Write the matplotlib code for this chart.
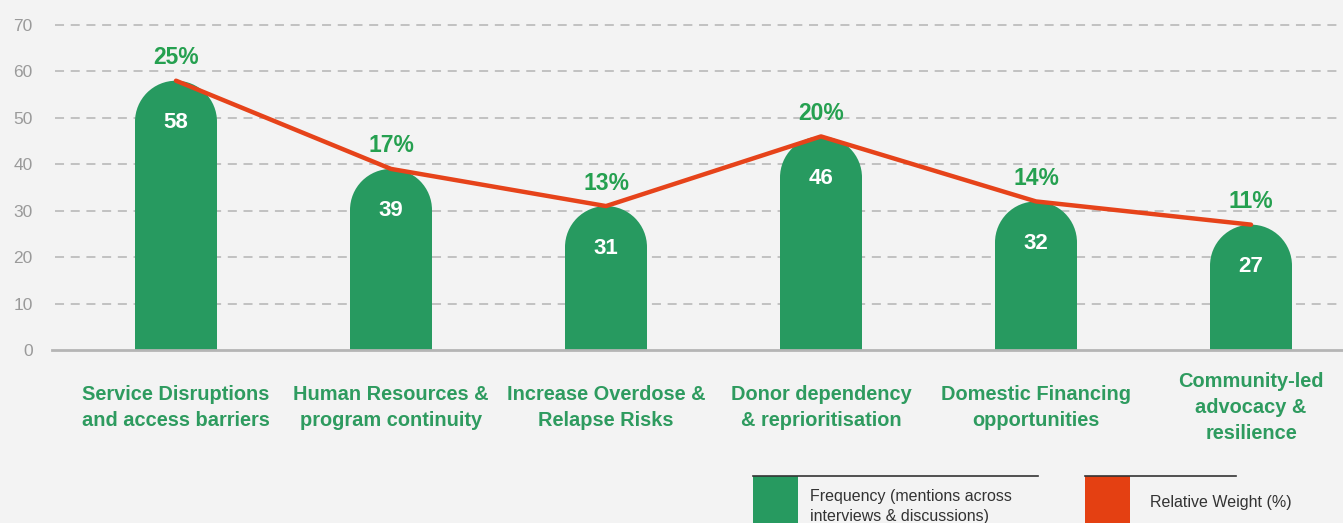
import numpy as np
import matplotlib
matplotlib.use("Agg")
import matplotlib.pyplot as plt
from matplotlib.patches import Rectangle, Ellipse

plt.rcParams["font.family"] = ["Liberation Sans", "DejaVu Sans"]

# data
categories = ["Service Disruptions\nand access barriers",
              "Human Resources &\nprogram continuity",
              "Increase Overdose &\nRelapse Risks",
              "Donor dependency\n& reprioritisation",
              "Domestic Financing\nopportunities",
              "Community-led\nadvocacy &\nresilience"]
frequency = [58, 39, 31, 46, 32, 27]
weight_pct = [25, 17, 13, 20, 14, 11]
y_ticks = [0, 10, 20, 30, 40, 50, 60, 70]

BG = "#f3f3f3"
GREEN = "#279a60"
GREEN_TXT = "#25a050"
ORANGE = "#e6431a"

W, H = 1343, 523
fig = plt.figure(figsize=(W / 100, H / 100), dpi=100, facecolor=BG)

# axes geometry in pixels
ax_left, ax_bottom_px = 52, 350
ymax = 72
ppu = 4.643  # pixels per y unit
ax_h = ymax * ppu
ax = fig.add_axes([ax_left / W, (H - ax_bottom_px) / H, (W - ax_left) / W, ax_h / H])
ax.set_facecolor(BG)

x = np.arange(len(categories))
xpx = 215.0  # pixels per x unit
ax.set_xlim((ax_left - 176) / xpx, (W - 176) / xpx)
ax.set_ylim(0, ymax)

bw = 82 / xpx
r_y = 41 / ppu
for xi, v in zip(x, frequency):
    ax.add_patch(Rectangle((xi - bw / 2, 0), bw, v - r_y, facecolor=GREEN,
                           edgecolor="none", zorder=2))
    ax.add_patch(Ellipse((xi, v - r_y), bw, 2 * r_y, facecolor=GREEN,
                         edgecolor="none", zorder=2))
    ax.annotate(str(v), (xi, v), xytext=(0, -42), textcoords="offset pixels",
                ha="center", va="center", color="white", fontsize=16,
                fontweight="bold", zorder=4)

ax.plot(x, frequency, color=ORANGE, lw=3.2, zorder=3, solid_capstyle="round")

for xi, v, p in zip(x, frequency, weight_pct):
    ax.annotate(f"{p}%", (xi, v), xytext=(0, 23), textcoords="offset pixels",
                ha="center", va="center", color=GREEN_TXT, fontsize=16.5,
                fontweight="bold", zorder=4)

for xi, c in zip(x, categories):
    ax.text(xi, -12.4, c, ha="center", va="center", color="#2e9b5f",
            fontsize=14.4, fontweight="bold", linespacing=1.45)

ax.set_yticks(y_ticks)
ax.set_yticklabels([str(t) for t in y_ticks], color="#9a9a9a", fontsize=12.5)
ax.tick_params(axis="y", length=0, pad=14)
ax.set_xticks([])
for t in y_ticks[1:]:
    ax.axhline(t, xmin=3 / (W - ax_left), color="#bdbdbd", lw=1.3,
               dashes=(5, 3.7), zorder=1)
for s in ["top", "right", "left"]:
    ax.spines[s].set_visible(False)
ax.spines["bottom"].set_color("#b5b5b5")
ax.spines["bottom"].set_linewidth(2)

# legend drawn in pixel space
lg = fig.add_axes([0, 0, 1, 1], facecolor="none")
lg.set_xlim(0, W)
lg.set_ylim(H, 0)
lg.axis("off")
lg.add_patch(Rectangle((753, 476), 45, 50, facecolor=GREEN, edgecolor="none"))
lg.plot([753, 1038], [475.5, 475.5], color="#333333", lw=1.2)
lg.text(810, 497, "Frequency (mentions across", fontsize=11.5, color="#333333",
        va="center", ha="left")
lg.text(810, 516, "interviews & discussions)", fontsize=11.5, color="#333333",
        va="center", ha="left")
lg.add_patch(Rectangle((1085, 476), 45, 50, facecolor="#e44012", edgecolor="none"))
lg.plot([1085, 1236], [475.5, 475.5], color="#333333", lw=1.2)
lg.text(1150, 503, "Relative Weight (%)", fontsize=11.5, color="#333333",
        va="center", ha="left")

fig.savefig("out.png", dpi=100, facecolor=BG)
